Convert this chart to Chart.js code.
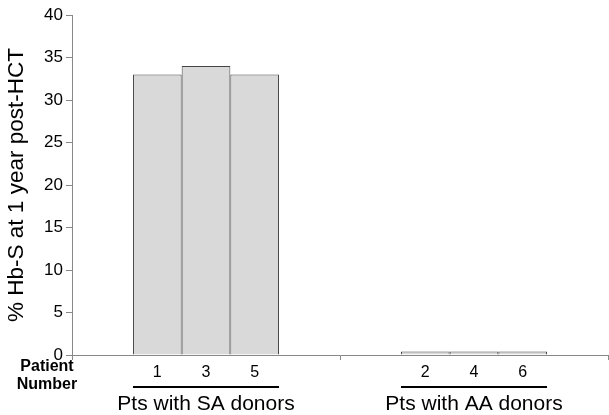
<!DOCTYPE html>
<html>
<head>
<meta charset="utf-8">
<script src="https://cdn.jsdelivr.net/npm/chart.js@4/dist/chart.umd.min.js"></script>
<style>
  html, body { margin: 0; padding: 0; background: #fff; }
  #wrap { width: 609px; height: 415px; }
</style>
</head>
<body>
<div id="wrap"><canvas id="c" width="609" height="415"></canvas></div>
<script>
// Donor groups along the x axis
const groups = ['Pts with SA donors', 'Pts with AA donors'];
// Patient numbers, one row per group, in bar order
const saPatients = [1, 3, 5];
const aaPatients = [2, 4, 6];
// % Hb-S at 1 year post-HCT for each patient
const saHbS = [33, 34, 33];
const aaHbS = [0.4, 0.4, 0.4];
// Y axis ticks
const yMin = 0, yMax = 40, yStep = 5;

const FONT = "'Liberation Sans', Arial, sans-serif";
const patientRows = [saPatients, aaPatients];

const datasets = saHbS.map((v, k) => ({
  label: 'Patient ' + saPatients[k] + ' / ' + aaPatients[k],
  data: [saHbS[k], aaHbS[k]],
  backgroundColor: '#d9d9d9',
  borderColor: '#444444',
  borderWidth: 1,
  categoryPercentage: 0.545,
  barPercentage: 1.0
}));

// Patient numbers, underlines and group names under each bar group
const groupLabels = {
  id: 'groupLabels',
  afterDraw(chart) {
    const ctx = chart.ctx;
    const xs = chart.scales.x;
    ctx.save();
    ctx.fillStyle = '#000';
    ctx.strokeStyle = '#000';
    ctx.textAlign = 'center';
    ctx.textBaseline = 'middle';

    ctx.font = 'bold 16px ' + FONT;
    ctx.fillText('Patient', 47, 367);
    ctx.fillText('Number', 47, 385);

    groups.forEach((g, j) => {
      let left = Infinity, right = -Infinity;
      ctx.font = '16px ' + FONT;
      chart.data.datasets.forEach((ds, k) => {
        const bar = chart.getDatasetMeta(k).data[j];
        left = Math.min(left, bar.x - bar.width / 2);
        right = Math.max(right, bar.x + bar.width / 2);
        ctx.fillText(String(patientRows[j][k]), bar.x, 373);
      });
      ctx.lineWidth = 2;
      ctx.beginPath();
      ctx.moveTo(left, 387);
      ctx.lineTo(right, 387);
      ctx.stroke();
      ctx.font = '21px ' + FONT;
      ctx.fillText(g, xs.getPixelForValue(j), 404);
    });
    ctx.restore();
  }
};

new Chart(document.getElementById('c'), {
  type: 'bar',
  data: { labels: groups, datasets },
  options: {
    responsive: false,
    animation: false,
    layout: { padding: { top: 15, right: 1, left: 0, bottom: 0 } },
    plugins: { legend: { display: false }, tooltip: { enabled: false } },
    scales: {
      x: {
        ticks: { display: false },
        grid: {
          offset: true,
          drawOnChartArea: false,
          drawTicks: true,
          tickLength: 5,
          color: '#888'
        },
        border: { color: '#888', width: 1 },
        afterFit(scale) { scale.height = 60; }
      },
      y: {
        min: yMin,
        max: yMax,
        ticks: {
          stepSize: yStep,
          color: '#000',
          padding: 3,
          font: { family: FONT, size: 17 }
        },
        grid: {
          drawOnChartArea: false,
          drawTicks: true,
          tickLength: 6,
          color: '#888'
        },
        border: { color: '#888', width: 1 },
        title: {
          display: true,
          text: '% Hb-S at 1 year post-HCT',
          color: '#000',
          font: { family: FONT, size: 22.5 },
          padding: { top: 3, bottom: 1 }
        },
        afterFit(scale) { scale.width = 72; }
      }
    }
  },
  plugins: [groupLabels]
});
</script>
</body>
</html>
